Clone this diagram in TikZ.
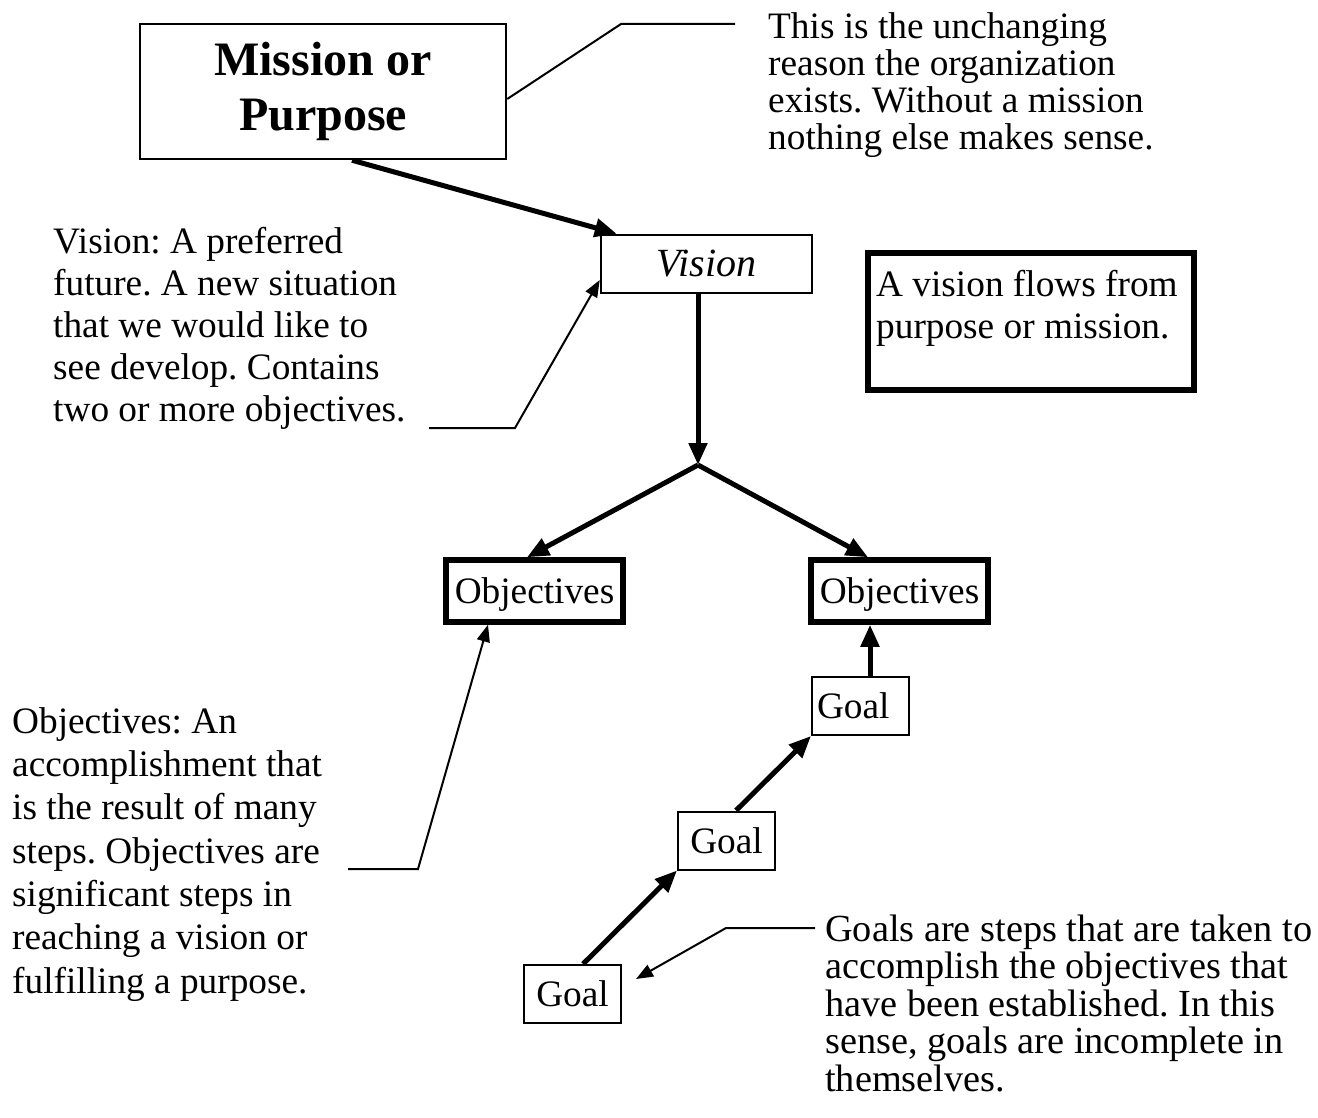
\documentclass[tikz,border=0pt]{standalone}
\usepackage{fontspec}
\setmainfont{Liberation Serif}
\usetikzlibrary{arrows.meta,calc}
\frenchspacing
\begin{document}
\begin{tikzpicture}[x=1pt,y=-1pt,
  body/.style={font=\fontsize{37.3}{#1}\selectfont, inner sep=0pt, align=left},
  thinbox/.style={draw, line width=2.5pt, inner sep=0pt},
  heavybox/.style={draw, line width=5.5pt, inner sep=0pt},
  goalbox/.style={draw, line width=2pt, inner sep=0pt, minimum width=97pt, minimum height=58pt,
      font=\fontsize{37.3}{42}\selectfont},
  flow/.style={line width=5pt, -{Triangle[length=22pt,width=18pt]}},
  callout/.style={line width=2pt},
  callarrow/.style={line width=2pt, -{Triangle[length=17pt,width=13pt]}}]
\useasboundingbox (0,0) rectangle (1318,1118);

% boxes
\node[thinbox, minimum width=366pt, minimum height=135pt, align=center,
      font=\bfseries\fontsize{48}{55}\selectfont] (mission) at (323,91.5) {Mission or\\Purpose};
\node[thinbox, minimum width=211pt, minimum height=58pt,
      font=\itshape\fontsize{40}{42}\selectfont] (vision) at (706.5,264) {Vision};
\node[heavybox, minimum width=177pt, minimum height=62pt, text height=28pt, text depth=4pt,
      font=\fontsize{37.3}{42}\selectfont] (objL) at (534.5,591) {Objectives};
\node[heavybox, minimum width=177pt, minimum height=62pt, text height=28pt, text depth=4pt,
      font=\fontsize{37.3}{42}\selectfont] (objR) at (899.5,591) {Objectives};
\node[goalbox, text width=87pt, align=left] (gT) at (860.5,706) {Goal};
\node[goalbox] (gM) at (726.5,840.5) {Goal};
\node[goalbox] (gB) at (572.5,994) {Goal};
\node[heavybox, minimum width=326pt, minimum height=137pt] (flowbox) at (1031,321.5) {};

% texts (anchored at the baseline of the last line)
\node[body=37.3, anchor=base west] (tmission) at (768,150)
  {This is the unchanging\\reason the organization\\exists. Without a mission\\nothing else makes sense.};
\node[body=42, anchor=base west] (tvision) at (53,421)
  {Vision: A preferred\\future. A new situation\\that we would like to\\see develop. Contains\\two or more objectives.};
\node[body=43.3, anchor=base west] (tobj) at (12,993)
  {Objectives: An\\accomplishment that\\is the result of many\\steps. Objectives are\\significant steps in\\reaching a vision or\\fulfilling a purpose.};
\node[body=37.5, font=\fontsize{38.3}{37.5}\selectfont, anchor=base west] (tgoal) at (825,1091)
  {Goals are steps that are taken to\\accomplish the objectives that\\have been established. In this\\sense, goals are incomplete in\\themselves.};
\node[body=42, anchor=base west] (tflow) at (876,338)
  {A vision flows from\\purpose or mission.};

% coordinates
\coordinate (br) at (698,465);
\coordinate (mc1) at (621,24);
\coordinate (mc2) at (735,24);
\coordinate (vc1) at (429,428);
\coordinate (vc2) at (515,428);
\coordinate (oc1) at (348,869);
\coordinate (oc2) at (418,869);
\coordinate (gc1) at (815,928);
\coordinate (gc2) at (726,928);
\coordinate (gtip) at (636,979);

% flow arrows
\draw[flow] ([xshift=29pt]mission.south) -- ([xshift=17pt]vision.north west);
\draw[flow] (br |- vision.south) -- (br);
\draw[flow] (br) -- ([xshift=-7.5pt]objL.north);
\draw[flow] (br) -- ([xshift=-31.5pt]objR.north);
\draw[flow] ([xshift=9.5pt]gT.north) -- ([xshift=9.5pt]gT.north |- objR.south);
\draw[flow] ([xshift=10.5pt]gB.north) -- (gM.south west);
\draw[flow] ([xshift=9.5pt]gM.north) -- (gT.south west);

% callouts
\draw[callout] ([yshift=-7.5pt]mission.east) -- (mc1) -- (mc2);
\draw[callarrow] (vc1) -- (vc2) -- ([yshift=-16pt]vision.west);
\draw[callarrow] (oc1) -- (oc2) -- ([xshift=-46.5pt]objL.south);
\draw[callarrow] (gc1) -- (gc2) -- (gtip);
\end{tikzpicture}
\end{document}
